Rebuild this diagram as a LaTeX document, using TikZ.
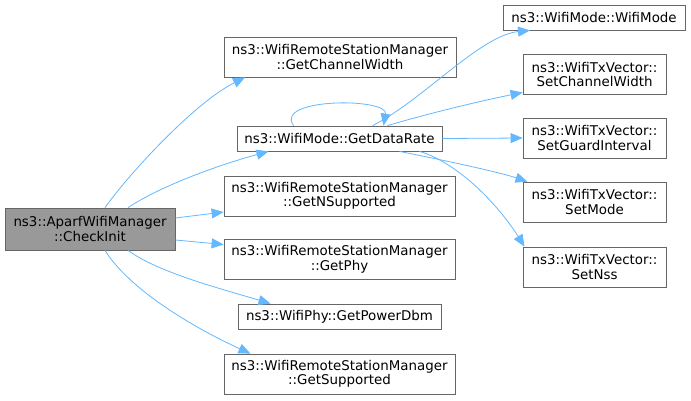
\documentclass[tikz,border=0pt]{standalone}
\usepackage{fontspec}
\setmainfont{DejaVu Sans}
\usetikzlibrary{arrows.meta}
\tikzset{
  fn/.style={draw=black!60, fill=white, line width=0.8pt, inner sep=0pt, align=center,
    font=\fontsize{13.4}{14.5}\selectfont, text=black},
  root/.style={fn, fill=black!40},
  edge/.style={draw=edgeblue, line width=0.8pt, -{Triangle[length=12pt,width=10pt]}},
}
\definecolor{edgeblue}{HTML}{63B8FF}
\begin{document}
\begin{tikzpicture}[x=1pt,y=-1pt]
\useasboundingbox[fill=white] (0,0) rectangle (691,400);
\node[root, minimum width=170pt, minimum height=42pt] (ci) at (90,229) {ns3::AparfWifiManager\\::CheckInit};
\node[fn, minimum width=232pt, minimum height=40pt] (gcw) at (340,57) {ns3::WifiRemoteStationManager\\::GetChannelWidth};
\node[fn, minimum width=205pt, minimum height=25pt] (gdr) at (339.5,138.5) {ns3::WifiMode::GetDataRate};
\node[fn, minimum width=182pt, minimum height=25pt] (wm) at (594,17.5) {ns3::WifiMode::WifiMode};
\node[fn, minimum width=143pt, minimum height=40pt] (scw) at (594.5,74.5) {ns3::WifiTxVector::\\SetChannelWidth};
\node[fn, minimum width=143pt, minimum height=40pt] (sgi) at (594.5,138) {ns3::WifiTxVector::\\SetGuardInterval};
\node[fn, minimum width=143pt, minimum height=40pt] (sm) at (594.5,202) {ns3::WifiTxVector::\\SetMode};
\node[fn, minimum width=143pt, minimum height=40pt] (sn) at (594.5,267) {ns3::WifiTxVector::\\SetNss};
\node[fn, minimum width=231pt, minimum height=40pt] (gns) at (339.5,196) {ns3::WifiRemoteStationManager\\::GetNSupported};
\node[fn, minimum width=231pt, minimum height=40pt] (gp) at (339.5,259.5) {ns3::WifiRemoteStationManager\\::GetPhy};
\node[fn, minimum width=203pt, minimum height=25pt] (gpd) at (339.5,316.5) {ns3::WifiPhy::GetPowerDbm};
\node[fn, minimum width=231pt, minimum height=40pt] (gs) at (339.5,374) {ns3::WifiRemoteStationManager\\::GetSupported};

\draw[edge] ([xshift=15pt]ci.north) .. controls +(25,-35) and +(-50,25) .. ([xshift=-95pt]gcw.south);
\draw[edge] ([xshift=38pt]ci.north) .. controls +(30,-20) and +(-55,15) .. ([xshift=-71pt]gdr.south);
\draw[edge] ([yshift=11pt]ci.east) -- ([yshift=-16pt]gns.west);
\draw[edge] ([yshift=-11pt]ci.east) -- ([yshift=15pt]gp.west);
\draw[edge] ([xshift=38pt]ci.south) .. controls +(30,22) and +(-50,-15) .. ([xshift=-69pt]gpd.north);
\draw[edge] ([xshift=15pt]ci.south) .. controls +(25,40) and +(-55,-25) .. ([xshift=-89pt]gs.north);
\draw[edge] ([xshift=-46pt]gdr.north) .. controls +(-20,-28) and +(5,-28) .. ([xshift=44pt]gdr.north);
\draw[edge] ([xshift=33pt]gdr.north) .. controls +(50,-25) and +(-50,5) .. ([xshift=-64pt]wm.south);
\draw[edge] ([xshift=48pt]gdr.north) .. controls +(40,-12) and +(-40,8) .. ([yshift=-18pt]scw.west);
\draw[edge] (gdr.east) -- (sgi.west);
\draw[edge] ([xshift=60pt]gdr.south) .. controls +(40,8) and +(-30,-10) .. ([xshift=-67pt]sm.north);
\draw[edge] ([xshift=80pt]gdr.south) .. controls +(40,12) and +(-25,-40) .. ([xshift=-70pt]sn.north);
\end{tikzpicture}
\end{document}
